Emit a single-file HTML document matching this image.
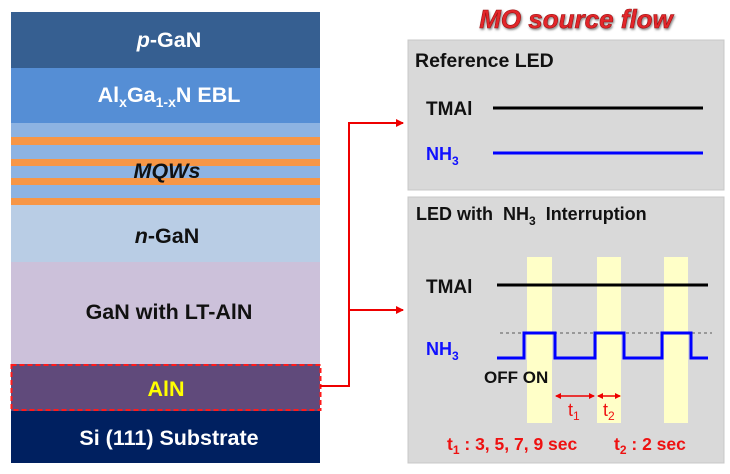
<!DOCTYPE html>
<html><head><meta charset="utf-8"><style>
html,body{margin:0;padding:0;background:#fff;}
svg{display:block;font-family:"Liberation Sans",Arial,sans-serif;font-weight:bold;}
</style></head><body>
<svg width="730" height="474" viewBox="0 0 730 474" xmlns="http://www.w3.org/2000/svg">
<defs>
<marker id="ar" markerWidth="8" markerHeight="8" refX="7" refY="4" orient="auto" markerUnits="userSpaceOnUse"><path d="M0,0 L8,4 L0,8 z" fill="#e00"/></marker>
<marker id="sa" markerWidth="6" markerHeight="6" refX="5" refY="3" orient="auto-start-reverse" markerUnits="userSpaceOnUse"><path d="M0,0 L6,3 L0,6 z" fill="#e00"/></marker>
<filter id="sh"><feDropShadow dx="1" dy="1.5" stdDeviation="1" flood-color="#555" flood-opacity="0.7"/></filter>
</defs>
<rect x="11" y="12" width="309" height="56" fill="#365f91"/>
<rect x="11" y="68" width="309" height="55" fill="#558ed5"/>
<rect x="11" y="123" width="309" height="82" fill="#8db3e2"/>
<rect x="11" y="137" width="309" height="8" fill="#f79646"/>
<rect x="11" y="159" width="309" height="7" fill="#f79646"/>
<rect x="11" y="178" width="309" height="7" fill="#f79646"/>
<rect x="11" y="198" width="309" height="7" fill="#f79646"/>
<rect x="11" y="205" width="309" height="57" fill="#b9cde5"/>
<rect x="11" y="262" width="309" height="102" fill="#ccc1da"/>
<rect x="11" y="364" width="309" height="47" fill="#604a7b"/>
<rect x="11" y="411" width="309" height="52" fill="#002060"/>
<rect x="11.5" y="365" width="309" height="45" fill="none" stroke="#ff1a1a" stroke-width="2" stroke-dasharray="5,3"/>
<g font-size="21.5" text-anchor="middle">
<text x="169" y="47" fill="#fff"><tspan font-style="italic">p</tspan>-GaN</text>
<text x="169" y="102" fill="#fff">Al<tspan font-size="14" dy="5">x</tspan><tspan dy="-5">Ga</tspan><tspan font-size="14" dy="5">1-x</tspan><tspan dy="-5">N EBL</tspan></text>
<text x="167" y="178" fill="#111" font-style="italic">MQWs</text>
<text x="167" y="243" fill="#111"><tspan font-style="italic">n</tspan>-GaN</text>
<text x="169" y="319" fill="#111">GaN with LT-AlN</text>
<text x="166" y="396" fill="#ffff00">AlN</text>
<text x="169" y="445" fill="#fff">Si (111) Substrate</text>
</g>
<polyline points="320,386 349,386 349,123 403,123" fill="none" stroke="#e00" stroke-width="2" marker-end="url(#ar)"/>
<line x1="349" y1="310" x2="403" y2="310" stroke="#e00" stroke-width="2" marker-end="url(#ar)"/>
<text x="576" y="28" font-size="26" font-style="italic" fill="#e3262a" stroke="#9b1010" stroke-width="0.6" text-anchor="middle" filter="url(#sh)">MO source flow</text>
<rect x="408" y="40" width="316" height="150" fill="#d9d9d9" stroke="#c8c8c8"/>
<text x="415" y="67" font-size="19.5" fill="#111">Reference LED</text>
<text x="426" y="115" font-size="19" fill="#111">TMAl</text>
<line x1="493" y1="108" x2="703" y2="108" stroke="#000" stroke-width="3"/>
<text x="426" y="160" font-size="18" fill="#1010ff">NH<tspan font-size="12" dy="5">3</tspan></text>
<line x1="493" y1="153" x2="703" y2="153" stroke="#0000ff" stroke-width="3"/>
<rect x="408" y="197" width="316" height="266" fill="#d9d9d9" stroke="#c8c8c8"/>
<text x="416" y="220" font-size="18" fill="#111" xml:space="preserve">LED with  NH<tspan font-size="12" dy="5">3</tspan><tspan dy="-5">  Interruption</tspan></text>
<rect x="527" y="257" width="25" height="166" fill="#ffffc8"/>
<rect x="597" y="257" width="24" height="166" fill="#ffffc8"/>
<rect x="664" y="257" width="24" height="166" fill="#ffffc8"/>
<text x="426" y="293" font-size="19" fill="#111">TMAl</text>
<line x1="497" y1="285" x2="708" y2="285" stroke="#000" stroke-width="3"/>
<line x1="500" y1="333" x2="712" y2="333" stroke="#999" stroke-width="2" stroke-dasharray="3,3"/>
<text x="426" y="355" font-size="18" fill="#1010ff">NH<tspan font-size="12" dy="5">3</tspan></text>
<polyline points="497,358 524,358 524,333 555,333 555,358 595,358 595,333 624,333 624,358 662,358 662,333 691,333 691,358 708,358" fill="none" stroke="#0000ff" stroke-width="3"/>
<text x="484" y="383" font-size="17" fill="#111">OFF ON</text>
<line x1="556" y1="396" x2="594" y2="396" stroke="#e00" stroke-width="1.5" marker-start="url(#sa)" marker-end="url(#sa)"/>
<line x1="598" y1="396" x2="620" y2="396" stroke="#e00" stroke-width="1.5" marker-start="url(#sa)" marker-end="url(#sa)"/>
<g fill="#ee1111" font-weight="normal">
<text x="568" y="416" font-size="18">t<tspan font-size="12" dy="4">1</tspan></text>
<text x="603" y="416" font-size="18">t<tspan font-size="12" dy="4">2</tspan></text>
</g>
<g fill="#ee1111" font-size="17.5">
<text x="447" y="450">t<tspan font-size="12" dy="4">1</tspan><tspan dy="-4"> : 3, 5, 7, 9 sec</tspan></text>
<text x="614" y="450">t<tspan font-size="12" dy="4">2</tspan><tspan dy="-4"> : 2 sec</tspan></text>
</g>
</svg>
</body></html>
